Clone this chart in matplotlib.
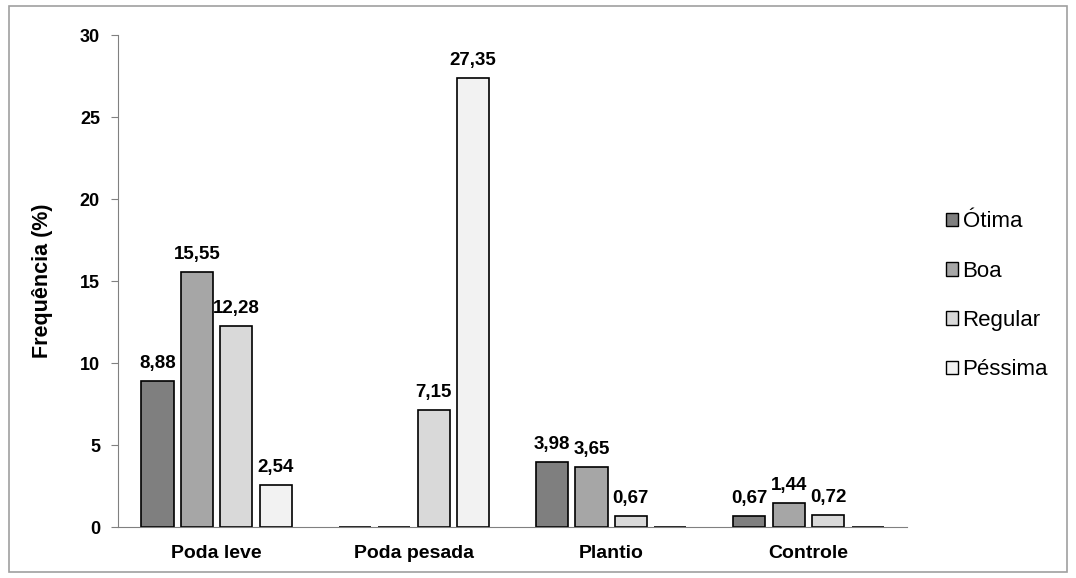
import numpy as np
import matplotlib.pyplot as plt
from matplotlib.patches import Rectangle

plt.rcParams['font.family'] = ['Liberation Sans', 'DejaVu Sans']

groups = ["Poda leve", "Poda pesada", "Plantio", "Controle"]
series = ["Ótima", "Boa", "Regular", "Péssima"]
otima = [8.88, 0, 3.98, 0.67]
boa = [15.55, 0, 3.65, 1.44]
regular = [12.28, 7.15, 0.67, 0.72]
pessima = [2.54, 27.35, 0, 0]
colors = ["#7f7f7f", "#a6a6a6", "#d9d9d9", "#f2f2f2"]

fig = plt.figure(figsize=(10.76, 5.78), dpi=100)
ax = fig.add_axes([0.1097, 0.0882, 0.7333, 0.8512])

x = np.arange(len(groups))
width = 0.163
step = 0.2
for i, (name, vals) in enumerate(zip(series, [otima, boa, regular, pessima])):
    pos = x + (i - 1.5) * step
    ax.bar(pos, vals, width, color=colors[i], edgecolor="black", linewidth=1.2, label=name)
    for p, v in zip(pos, vals):
        if v > 0:
            ax.text(p, v + 0.55, f"{v:.2f}".replace(".", ","), ha="center", va="bottom",
                    fontsize=13.5, fontweight="bold")

ax.set_xlim(-0.5, 3.5)
ax.set_ylim(0, 30)
ax.set_yticks([0, 5, 10, 15, 20, 25, 30])
ax.set_xticks(x)
ax.set_xticklabels(groups, fontsize=14, fontweight="bold")
ax.tick_params(axis="x", length=0, pad=13)
ax.tick_params(axis="y", length=5, color="#808080", labelsize=13, pad=8)
for lbl in ax.get_yticklabels():
    lbl.set_fontweight("bold")
ax.spines["top"].set_visible(False)
ax.spines["right"].set_visible(False)
ax.spines["left"].set_color("#808080")
ax.spines["bottom"].set_color("#808080")
ax.set_ylabel("Frequência (%)", fontsize=15.5, fontweight="bold", labelpad=19)

leg = ax.legend(loc="center left", bbox_to_anchor=(1.038, 0.47), frameon=False,
                fontsize=16, handlelength=0.55, handleheight=0.55, handletextpad=0.2,
                labelspacing=1.27, borderaxespad=0)
for h in leg.legend_handles:
    h.set_linewidth(1.0)

fig.patches.append(Rectangle((0.008, 0.01), 0.984, 0.98, transform=fig.transFigure,
                             fill=False, edgecolor="#a0a0a0", linewidth=1.2))

fig.savefig("out.png", dpi=100)
